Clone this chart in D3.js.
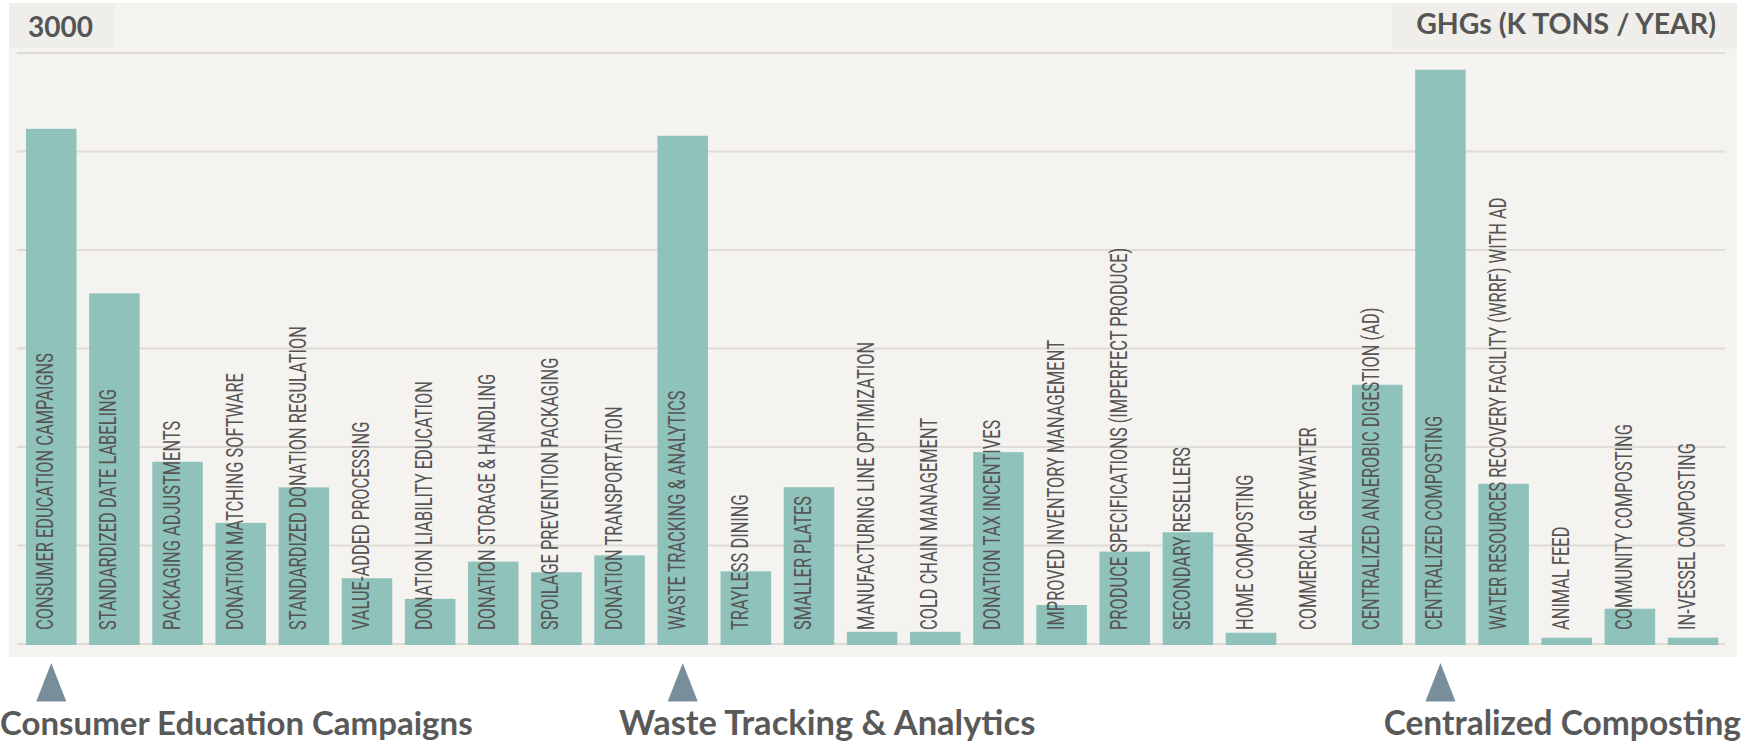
<!DOCTYPE html>
<html>
<head>
<meta charset="utf-8">
<script src="https://cdn.jsdelivr.net/npm/d3@7"></script>
<style>
  html, body { margin: 0; padding: 0; background: #ffffff; }
  svg { display: block; }
</style>
</head>
<body>
<svg id="chart" width="1750" height="749"></svg>
<script>
// ---- data ----
const categories = [
  "CONSUMER EDUCATION CAMPAIGNS",
  "STANDARDIZED DATE LABELING",
  "PACKAGING ADJUSTMENTS",
  "DONATION MATCHING SOFTWARE",
  "STANDARDIZED DONATION REGULATION",
  "VALUE-ADDED PROCESSING",
  "DONATION LIABILITY EDUCATION",
  "DONATION STORAGE & HANDLING",
  "SPOILAGE PREVENTION PACKAGING",
  "DONATION TRANSPORTATION",
  "WASTE TRACKING & ANALYTICS",
  "TRAYLESS DINING",
  "SMALLER PLATES",
  "MANUFACTURING LINE OPTIMIZATION",
  "COLD CHAIN MANAGEMENT",
  "DONATION TAX INCENTIVES",
  "IMPROVED INVENTORY MANAGEMENT",
  "PRODUCE SPECIFICATIONS (IMPERFECT PRODUCE)",
  "SECONDARY RESELLERS",
  "HOME COMPOSTING",
  "COMMERCIAL GREYWATER",
  "CENTRALIZED ANAEROBIC DIGESTION (AD)",
  "CENTRALIZED COMPOSTING",
  "WATER RESOURCES RECOVERY FACILITY (WRRF) WITH AD",
  "ANIMAL FEED",
  "COMMUNITY COMPOSTING",
  "IN-VESSEL COMPOSTING"
];
const ghgValues = [
  2615, 1780, 925, 615, 795, 334, 229, 418, 364, 450,
  2580, 369, 796, 62, 62, 974, 198, 469, 567, 57,
  0, 1316, 2915, 813, 32, 179, 32
];
const gridTicks = [0, 500, 1000, 1500, 2000, 2500, 3000];
const topTickLabel = "3000";
const unitLabel = "GHGs (K TONS / YEAR)";
const highlightIndex = [0, 10, 22];
const highlightNames = ["Consumer Education Campaigns", "Waste Tracking & Analytics", "Centralized Composting"];

// ---- layout ----
const svg = d3.select("#chart");
const panel = { x0: 9, y0: 3, x1: 1737, y1: 657 };

const x = d3.scaleBand()
  .domain(categories)
  .range([26, 1718.3])
  .paddingInner(0.2)
  .paddingOuter(0);

const y = d3.scaleLinear()
  .domain([0, 3000])
  .range([644, 53]);

// panel background
svg.append("rect")
  .attr("x", panel.x0).attr("y", panel.y0)
  .attr("width", panel.x1 - panel.x0).attr("height", panel.y1 - panel.y0)
  .attr("fill", "#f5f3ef");

// header boxes
svg.append("rect")
  .attr("x", 9).attr("y", 3).attr("width", 106).attr("height", 45)
  .attr("fill", "#efeeea");
svg.append("rect")
  .attr("x", 1392).attr("y", 3).attr("width", 345).attr("height", 46)
  .attr("fill", "#efeeea");

// gridlines
svg.append("g").selectAll("line")
  .data(gridTicks)
  .join("line")
  .attr("x1", 17).attr("x2", 1725)
  .attr("y1", d => y(d)).attr("y2", d => y(d))
  .attr("stroke", "#dfdcd7")
  .attr("stroke-width", 2);

// header texts
svg.append("text")
  .attr("x", 28).attr("y", 37)
  .attr("font-family", "Lato, 'Open Sans', sans-serif")
  .attr("font-weight", 700)
  .attr("font-size", 28)
  .attr("fill", "#555555")
  .text(topTickLabel);

svg.append("text")
  .attr("x", 1716).attr("y", 34)
  .attr("text-anchor", "end")
  .attr("font-family", "Lato, 'Open Sans', sans-serif")
  .attr("font-weight", 700)
  .attr("font-size", 28.5)
  .attr("fill", "#555555")
  .text(unitLabel);

// bars
svg.append("g").selectAll("rect")
  .data(categories.map((c, i) => ({ c, v: ghgValues[i] })))
  .join("rect")
  .attr("x", d => x(d.c))
  .attr("width", x.bandwidth())
  .attr("y", d => y(d.v))
  .attr("height", d => d.v > 0 ? y(0) - y(d.v) + 1 : 0)
  .attr("fill", "#8bc0b8")
  .attr("fill-opacity", 0.97);

// rotated category labels
svg.append("g").selectAll("text")
  .data(categories)
  .join("text")
  .attr("transform", d => `translate(${x(d) + x.bandwidth() / 2 + 2},630) rotate(-90) scale(0.67,1)`)
  .attr("font-family", "Roboto, 'Liberation Sans', sans-serif")
  .attr("font-weight", 400)
  .attr("font-size", 24.5)
  .attr("fill", "#555555")
  .text(d => d);

// highlight triangles
svg.append("g").selectAll("path")
  .data(highlightIndex)
  .join("path")
  .attr("d", i => {
    const cx = x(categories[i]) + x.bandwidth() / 2;
    return `M${cx},663 L${cx + 15},701.5 L${cx - 15},701.5 Z`;
  })
  .attr("fill", "#788e9b");

// highlight names
const nameAnchors = [
  { x: 0, anchor: "start", size: 33 },
  { x: 619, anchor: "start", size: 34.5 },
  { x: 1741, anchor: "end", size: 33.5 }
];
svg.append("g").selectAll("text")
  .data(highlightNames)
  .join("text")
  .attr("x", (d, i) => nameAnchors[i].x)
  .attr("y", 735)
  .attr("text-anchor", (d, i) => nameAnchors[i].anchor)
  .attr("font-family", "Lato, 'Open Sans', sans-serif")
  .attr("font-weight", 700)
  .attr("font-size", (d, i) => nameAnchors[i].size)
  .attr("fill", "#595959")
  .text(d => d);
</script>
</body>
</html>
